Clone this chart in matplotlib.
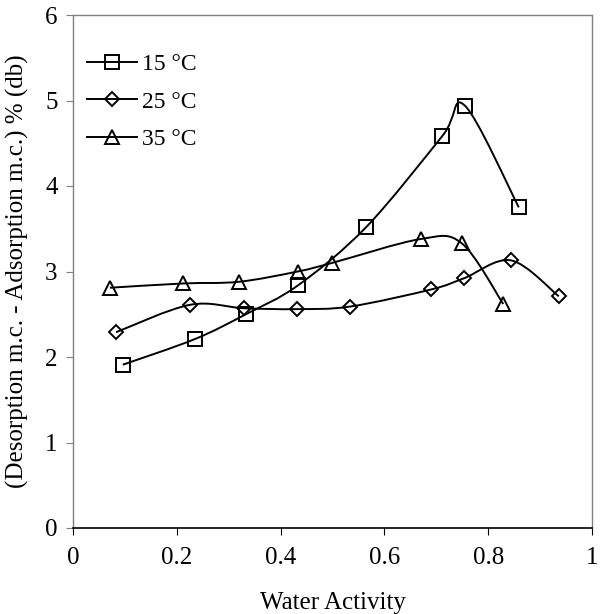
import numpy as np
import matplotlib
matplotlib.use("Agg")
import matplotlib.pyplot as plt
from matplotlib.path import Path
from matplotlib.patches import PathPatch
from matplotlib.lines import Line2D

plt.rcParams["font.family"] = ["Liberation Serif", "DejaVu Serif"]

# data
aw_15 = [0.096, 0.235, 0.333, 0.434, 0.565, 0.711, 0.755, 0.859]
dm_15 = [1.91, 2.21, 2.50, 2.84, 3.52, 4.58, 4.94, 3.75]

aw_25 = [0.083, 0.225, 0.330, 0.432, 0.534, 0.690, 0.753, 0.844, 0.936]
dm_25 = [2.29, 2.61, 2.57, 2.56, 2.59, 2.79, 2.92, 3.13, 2.71]

aw_35 = [0.071, 0.212, 0.320, 0.433, 0.499, 0.670, 0.749, 0.829]
dm_35 = [2.81, 2.86, 2.88, 3.00, 3.10, 3.38, 3.33, 2.62]

labels = ["15 °C", "25 °C", "35 °C"]
markers = ["s", "D", "^"]
msizes = [10.5, 7.5, 10.5]


def smooth_path(xs, ys):
    # Catmull-Rom style bezier through the points (like a spreadsheet "smoothed line")
    pts = np.column_stack([xs, ys])
    n = len(pts)
    verts = [pts[0]]
    codes = [Path.MOVETO]
    for i in range(n - 1):
        p0 = pts[i - 1] if i > 0 else pts[i]
        p1 = pts[i]
        p2 = pts[i + 1]
        p3 = pts[i + 2] if i + 2 < n else pts[i + 1]
        c1 = p1 + (p2 - p0) / 6.0
        c2 = p2 - (p3 - p1) / 6.0
        verts += [c1, c2, p2]
        codes += [Path.CURVE4] * 3
    return Path(verts, codes)


fig = plt.figure(figsize=(6.01, 6.14), dpi=100)
ax = fig.add_axes([73 / 601, 86 / 614, 519 / 601, 513 / 614])

series = [(aw_15, dm_15), (aw_25, dm_25), (aw_35, dm_35)]
handles = []
for (xs, ys), lab, mk, ms in zip(series, labels, markers, msizes):
    patch = PathPatch(smooth_path(xs, ys), facecolor="none", edgecolor="black",
                      linewidth=1.4, zorder=2)
    ax.add_patch(patch)
    ax.plot(xs, ys, linestyle="none", marker=mk, markersize=ms, mfc="none",
            mec="black", mew=1.4, zorder=3)
    handles.append(Line2D([], [], color="black", linewidth=1.4, marker=mk,
                          markersize=ms, mfc="none", mec="black", mew=1.4, label=lab))

ax.set_xlim(0, 1)
ax.set_ylim(0, 6)
ax.set_xticks([0, 0.2, 0.4, 0.6, 0.8, 1])
ax.set_xticklabels(["0", "0.2", "0.4", "0.6", "0.8", "1"])
ax.set_yticks(range(0, 7))

for side in ["left", "top", "right"]:
    ax.spines[side].set_color("#808080")
    ax.spines[side].set_linewidth(1.0)
ax.spines["bottom"].set_color("black")
ax.spines["bottom"].set_linewidth(1.2)

ax.tick_params(axis="both", direction="out", length=5, labelsize=18, colors="black")
ax.tick_params(axis="y", pad=6, color="#808080")
ax.tick_params(axis="x", pad=9)

ax.set_xlabel("Water Activity", fontsize=18, labelpad=16)
ax.set_ylabel("(Desorption m.c. - Adsorption m.c.) % (db)", fontsize=18, labelpad=12)

ax.legend(handles=handles, loc="upper left", bbox_to_anchor=(-0.005, 0.957),
          frameon=False, fontsize=17, handlelength=2.1, handletextpad=0.25,
          labelspacing=0.68, borderpad=0.2)

fig.savefig("out.png", dpi=100)
